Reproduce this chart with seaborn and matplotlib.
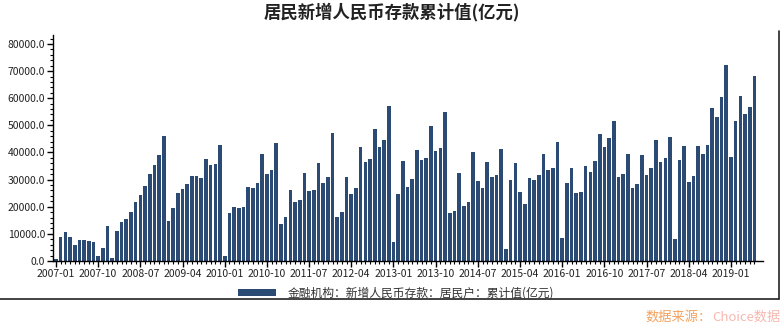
import numpy as np
import pandas as pd
import matplotlib
matplotlib.use("Agg")
import matplotlib.pyplot as plt
from matplotlib.ticker import FixedLocator, AutoMinorLocator, FuncFormatter
from matplotlib.patches import Patch
from matplotlib.lines import Line2D
import seaborn as sns

# Monthly cumulative new household RMB deposits (100 million yuan), 2007-01 .. 2019-06
months = pd.date_range("2007-01", periods=150, freq="MS").strftime("%Y-%m").tolist()
values = [
    700, 8970, 10690, 8970, 5900, 7740, 7740, 7370, 7000, 1840, 4790, 12900,
    1100, 11060, 14380, 15490, 18070, 21750, 24330, 27650, 32080, 35400, 39080, 46090,
    14750, 19540, 25070, 26550, 28390, 31340, 31340, 30600, 37600, 35390, 35760, 42760,
    1840, 17700, 19910, 19540, 19910, 27280, 26910, 28750, 39450, 32070, 33550, 43500,
    13640, 16220, 26170, 21750, 22490, 32440, 25810, 26170, 36130, 28750, 30970, 47190,
    16220, 18060, 30970, 24700, 26910, 42030, 36500, 37600, 48660, 42030, 44610, 57140,
    7000, 24700, 36870, 27280, 30230, 40920, 37230, 37970, 49770, 40550, 41660, 54930,
    17700, 18430, 32440, 20280, 21750, 40180, 29490, 26910, 36500, 30970, 31710, 41290,
    4420, 29860, 36130, 25440, 21010, 30600, 29860, 31710, 39450, 33550, 34290, 43870,
    8480, 28750, 34290, 25070, 25440, 35020, 32810, 36870, 46820, 42030, 45350, 51610,
    30970, 32070, 39450, 26910, 28390, 39080, 31710, 34290, 44610, 36500, 37970, 45720,
    8110, 37230, 42400, 29120, 31340, 42400, 39450, 42760, 56400, 53090, 60460, 72260,
    38340, 51610, 60830, 54190, 56770, 68200,
]
title = "居民新增人民币存款累计值(亿元)"
series_name = "金融机构：新增人民币存款：居民户：累计值(亿元)"
source_label = "数据来源："
source_name = "Choice数据"

df = pd.DataFrame({"month": months, "value": values})

sns.set_theme(style="white")
plt.rcParams["font.family"] = ["Noto Sans CJK SC", "DejaVu Sans"]

bar_color = "#2b4a74"

fig = plt.figure(figsize=(7.84, 3.28), dpi=100)
ax = fig.add_axes([0.0672, 0.2043, 0.9058, 0.689])

sns.barplot(data=df, x="month", y="value", color=bar_color, width=0.78,
            saturation=1, edgecolor="none", linewidth=0, ax=ax)

ax.set_xlim(-0.7, 150.8)
ax.set_ylim(0, 83300)

# x axis: a label every 9 months, a small tick every month
major_pos = list(range(0, len(months), 9))
ax.xaxis.set_major_locator(FixedLocator(major_pos))
ax.set_xticklabels([months[i] for i in major_pos])
ax.xaxis.set_minor_locator(FixedLocator(range(len(months))))

ax.yaxis.set_major_locator(FixedLocator(np.arange(0, 80001, 10000)))
ax.yaxis.set_minor_locator(AutoMinorLocator(5))
ax.yaxis.set_major_formatter(FuncFormatter(lambda v, p: f"{v:.1f}"))

ax.tick_params(axis="both", which="major", direction="out", length=4, width=1,
               color="black", labelsize=7.5, labelcolor="#222222", pad=1.5)
ax.tick_params(axis="both", which="minor", direction="out", length=2, width=0.8,
               color="black")
ax.tick_params(axis="x", which="both", bottom=True)
ax.tick_params(axis="y", which="both", left=True)
ax.set_xlabel("")
ax.set_ylabel("")
ax.grid(False)

for side in ("top", "right"):
    ax.spines[side].set_visible(False)
for side in ("left", "bottom"):
    ax.spines[side].set_color("black")
    ax.spines[side].set_linewidth(1)

fig.text(0.5, 0.963, title, ha="center", va="center", fontsize=12.5,
         fontweight="bold", color="#222222")

handle = Patch(facecolor=bar_color, edgecolor="none")
fig.legend([handle], [series_name], loc="center", bbox_to_anchor=(0.505, 0.107),
           frameon=False, fontsize=8.5, handlelength=3.2, handleheight=0.55,
           handletextpad=1.0, labelcolor="#333333")

# outer frame lines along the bottom and right
fig.add_artist(Line2D([0, 0.9936], [0.0884, 0.0884], color="#222222", lw=1.2,
                      transform=fig.transFigure))
fig.add_artist(Line2D([0.9936, 0.9936], [0.0884, 0.905], color="#222222", lw=1.2,
                      transform=fig.transFigure))

fig.text(0.908, 0.032, source_label, ha="right", va="center", fontsize=9.5,
         color="#f4a25e")
fig.text(0.908, 0.032, source_name, ha="left", va="center", fontsize=9.5,
         color="#f6b8b0")

fig.savefig("out.png", dpi=100)
